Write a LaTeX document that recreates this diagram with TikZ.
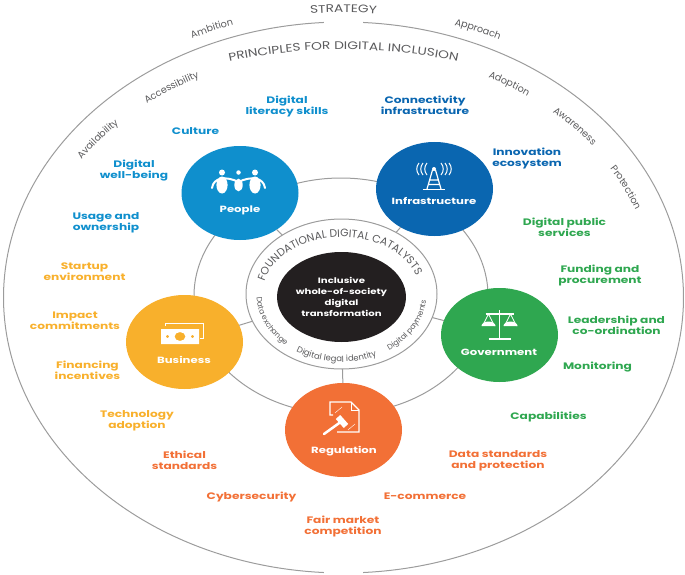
\documentclass[tikz,border=0pt]{standalone}
\usepackage{fontspec}
\setmainfont{Poppins}
\newfontfamily\wideFamily[FakeStretch=1.3]{Poppins}
\newfontfamily\greyFamily[FakeStretch=1.25]{Poppins}
\usetikzlibrary{shapes.geometric,decorations.text}
\definecolor{peopleColor}{HTML}{0F8FCD}
\definecolor{infraColor}{HTML}{0A66B0}
\definecolor{businessColor}{HTML}{F8B02C}
\definecolor{governmentColor}{HTML}{2FA750}
\definecolor{regulationColor}{HTML}{F27036}
\definecolor{centreColor}{HTML}{231F20}
\definecolor{ringColor}{HTML}{9C9C9C}
\definecolor{greyText}{HTML}{5A5A5C}
\newcommand{\labelFont}{\wideFamily\fontsize{9.4}{11}\selectfont\bfseries}
\newcommand{\nameFont}{\wideFamily\fontsize{9}{11}\selectfont\bfseries}
\newcommand{\centreFont}{\wideFamily\fontsize{7.8}{11}\selectfont\bfseries}
\newcommand{\titleFont}{\greyFamily\fontsize{11}{13}\selectfont}
\newcommand{\catalystFont}{\fontsize{10.8}{13}\selectfont}
\newcommand{\ringFont}{\fontsize{9.6}{11}\selectfont}
\newcommand{\smallFont}{\fontsize{8.4}{10}\selectfont}
\newcommand{\sideFont}{\fontsize{7.6}{9}\selectfont}
\tikzstyle{diagram} = [x = 1pt, y = -1pt]
\tikzstyle{ringLine} = [draw=ringColor, line width=1pt]
\tikzstyle{ringNode} = [ringLine, shape=ellipse, inner sep=0pt, outer sep=0pt]
\tikzstyle{hubNode} = [shape=ellipse, inner sep=0pt, outer sep=0pt, minimum width=117pt, minimum height=94pt]
\tikzstyle{hubName} = [text=white, font=\nameFont, inner sep=0pt]
\tikzstyle{itemLabel} = [font=\labelFont, align=center, inner sep=0pt]
\tikzstyle{iconLine} = [draw=white, line width=1pt]
\tikzstyle{iconFill} = [fill=white]
\newcommand{\centreX}{343.5}
% text on a piece of ellipse: rx, ry, centre y, start angle, end angle, font, text
\newcommand{\arcLabel}[7]{
  \path [decorate, decoration={text along path, text align=center, text color=greyText, text={|#6|#7}}]
    plot [domain=#4:#5, samples=70] ({\centreX + #1 * cos(\x)}, {#3 + #2 * sin(\x)});
}
\newcommand{\peopleIcon}[2]{
  \begin{scope}[shift={(#1,#2)}]
    \foreach \px/\sz in {-16.5/1, 0/.75, 16.5/1} {
      \fill [iconFill] (\px, -7.5) circle [radius=3 * \sz];
      \fill [iconFill] (\px, 5) ellipse [x radius=5.6 * \sz, y radius=8.5 * \sz];
    }
    \draw [iconLine, line width=2pt, line cap=round] (-26.5,8) .. controls (-25,-3) and (-12,-4) .. (0,2) .. controls (12,-4) and (25,-3) .. (26.5,8);
  \end{scope}
}
\newcommand{\towerIcon}[2]{
  \begin{scope}[shift={(#1,#2)}]
    \draw [iconLine] (-11,10) -- (11,10);
    \draw [iconLine, line width=1.2pt] (-7,10) -- (-1.5,-9) (7,10) -- (1.5,-9) (-4,1) -- (4,1) (-5.5,5.5) -- (5.5,5.5);
    \fill [iconFill] (0,-10) circle [radius=2];
    \foreach \wave in {7,11,15} {
      \draw [iconLine] (\wave + 0, -16) to [bend left=40] (\wave + 0, -4);
      \draw [iconLine] (-\wave + 0, -16) to [bend right=40] (-\wave + 0, -4);
    }
  \end{scope}
}
\newcommand{\moneyIcon}[2]{
  \begin{scope}[shift={(#1,#2)}]
    \draw [iconLine] (-15,-8) -- (-15,-11) -- (23,-11) -- (23,4) -- (20,4);
    \fill [iconFill, even odd rule] (-19,-5) rectangle (19,10) (0,2.5) ellipse [x radius=5.5, y radius=4.5] (-12.5,2.5) circle [radius=1.8] (12.5,2.5) circle [radius=1.8];
  \end{scope}
}
\newcommand{\scalesIcon}[2]{
  \begin{scope}[shift={(#1,#2)}]
    \draw [iconLine, line width=1.5pt] (0,-15) -- (0,14) (-11,14) -- (11,14) (-14,-11) -- (14,-11);
    \draw [iconLine, line width=.8pt] (-17,1) -- (-11,-11) -- (-5,1) (17,1) -- (11,-11) -- (5,1);
    \fill [iconFill] (-18,1) arc [start angle=180, end angle=0, x radius=7, y radius=-4.5] -- cycle;
    \fill [iconFill] (4,1) arc [start angle=180, end angle=0, x radius=7, y radius=-4.5] -- cycle;
  \end{scope}
}
\newcommand{\gavelIcon}[2]{
  \begin{scope}[shift={(#1,#2)}]
    \draw [iconLine, line width=1.1pt] (-11,-7) -- (-14,-7) -- (-14,-20) -- (7,-20) -- (15,-12) -- (15,10) -- (-7,10);
    \draw [iconLine, line width=.8pt] (7,-20) -- (7,-12) -- (15,-12);
    \draw [iconLine, line width=2.5pt, line cap=round] (-20,12) -- (-2,-1);
    \draw [iconLine, line width=6pt] (-6,-5) -- (2,4);
    \draw [iconLine, line width=.4pt] (-9,-9) -- (-2,-15) (4,8) -- (11,2);
  \end{scope}
}

\begin{document}
\begin{tikzpicture}[diagram]
  \useasboundingbox (0,0) rectangle (685,575);

  % outer rings
  \draw [ringLine] plot [domain=-86.7:86.7, samples=120, smooth] ({343.5 + 340 * cos(\x)}, {297.5 + 275.5 * sin(\x)});
  \draw [ringLine] plot [domain=93.3:266.7, samples=120, smooth] ({343.5 + 340 * cos(\x)}, {297.5 + 275.5 * sin(\x)});
  \node [ringNode, minimum width=294pt, minimum height=236pt] (middleRing) at (341,296) {};
  \node [ringNode, minimum width=191pt, minimum height=150pt] (catalystRing) at (341.5,294) {};

  % hubs
  \node [hubNode, fill=peopleColor] (people) at (240,193) {};
  \node [hubNode, fill=infraColor] (infrastructure) at (434.5,189) {};
  \node [hubNode, fill=businessColor] (business) at (184.5,342) {};
  \node [hubNode, fill=governmentColor] (government) at (499.5,335) {};
  \node [hubNode, fill=regulationColor] (regulation) at (343.5,430) {};
  \node [shape=ellipse, fill=centreColor, inner sep=0pt, minimum width=113pt, minimum height=90pt, text=white, align=center, font=\centreFont] (centre) at (341.5,297) {Inclusive\\whole-of-society\\digital\\transformation};

  % spokes
  \foreach \hub in {people,infrastructure,business,government,regulation} {
    \draw [ringLine] (catalystRing) -- (\hub);
  }

  \node [hubName] (peopleName) at (240,210) {People};
  \node [hubName] (infrastructureName) at (434,201) {Infrastructure};
  \node [hubName] (businessName) at (184,360) {Business};
  \node [hubName] (governmentName) at (499,352) {Government};
  \node [hubName] (regulationName) at (344,451) {Regulation};

  \peopleIcon{238.5}{180}
  \towerIcon{434}{179}
  \moneyIcon{180}{334}
  \scalesIcon{499.5}{325}
  \gavelIcon{344}{422}

  % curved grey text
  \arcLabel{352}{285}{297.5}{-110}{-70}{\titleFont}{STRATEGY}
  \arcLabel{352}{287}{297.5}{-125}{-99}{\ringFont}{Ambition}
  \arcLabel{352}{287}{297.5}{-81}{-54}{\ringFont}{Approach}
  \arcLabel{370}{248}{297.5}{-135}{-45}{\titleFont}{PRINCIPLES FOR DIGITAL INCLUSION}
  \arcLabel{315}{248}{297.5}{-160}{-123}{\ringFont}{Availability}
  \arcLabel{315}{248}{297.5}{-143}{-104}{\ringFont}{Accessibility}
  \arcLabel{315}{248}{297.5}{-75}{-41}{\ringFont}{Adoption}
  \arcLabel{315}{248}{297.5}{-60}{-25}{\ringFont}{Awareness}
  \arcLabel{312}{248}{297.5}{-43}{-8}{\ringFont}{Protection}

  % curved text inside catalyst ring
  \renewcommand{\centreX}{341.5}
  \arcLabel{79}{57}{294}{-200}{14}{\catalystFont}{FOUNDATIONAL DIGITAL CATALYSTS}
  \arcLabel{85}{68}{294}{200}{112}{\sideFont}{Data exchange}
  \arcLabel{85}{68}{294}{132}{56}{\smallFont}{Digital legal identity}
  \arcLabel{85}{68}{294}{73}{-15}{\sideFont}{Digital payments}

  % item labels
  \begin{scope}[every node/.append style={itemLabel, text=peopleColor}]
    \node (literacy) at (287,106) {Digital\\literacy skills};
    \node (culture) at (195.5,131) {Culture};
    \node (wellBeing) at (134,170.5) {Digital\\well-being};
    \node (usage) at (106,222.5) {Usage and\\ownership};
  \end{scope}
  \begin{scope}[every node/.append style={itemLabel, text=infraColor}]
    \node (connectivity) at (425,105.5) {Connectivity\\infrastructure};
    \node (innovation) at (527,158.5) {Innovation\\ecosystem};
  \end{scope}
  \begin{scope}[every node/.append style={itemLabel, text=governmentColor}]
    \node (publicServices) at (564.5,227.5) {Digital public\\services};
    \node (funding) at (600,275.5) {Funding and\\procurement};
    \node (leadership) at (616.5,325) {Leadership and\\co-ordination};
    \node (monitoring) at (597.5,367) {Monitoring};
    \node (capabilities) at (548.5,416.5) {Capabilities};
  \end{scope}
  \begin{scope}[every node/.append style={itemLabel, text=regulationColor}]
    \node (dataStandards) at (498,461) {Data standards\\and protection};
    \node (eCommerce) at (425,496.5) {E-commerce};
    \node (fairMarket) at (343,526) {Fair market\\competition};
    \node (cybersecurity) at (251.5,496.5) {Cybersecurity};
    \node (ethical) at (184.5,460) {Ethical\\standards};
  \end{scope}
  \begin{scope}[every node/.append style={itemLabel, text=businessColor}]
    \node (technology) at (137,420.5) {Technology\\adoption};
    \node (financing) at (87.5,370) {Financing\\incentives};
    \node (impact) at (75,321) {Impact\\commitments};
    \node (startup) at (84.5,272) {Startup\\environment};
  \end{scope}
\end{tikzpicture}
\end{document}
